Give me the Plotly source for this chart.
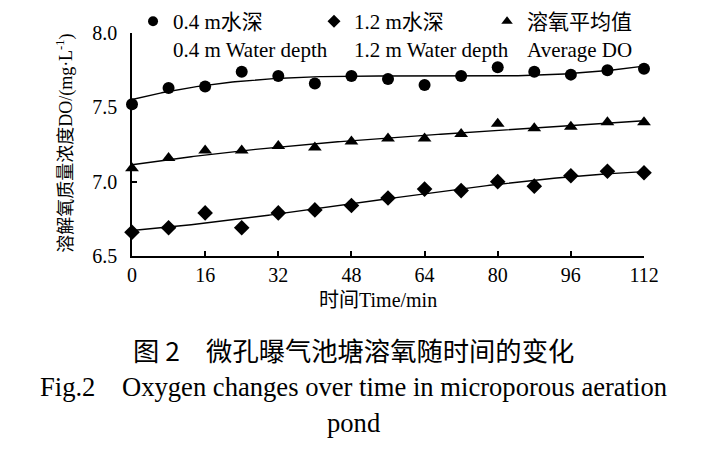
import numpy as np
import plotly.graph_objects as go

# ---- data ----
time_min = [0, 8, 16, 24, 32, 40, 48, 56, 64, 72, 80, 88, 96, 104, 112]
do_04m = [7.52, 7.63, 7.64, 7.74, 7.71, 7.66, 7.71, 7.69, 7.65, 7.71, 7.77, 7.74, 7.72, 7.75, 7.76]
do_12m = [6.66, 6.69, 6.79, 6.69, 6.79, 6.81, 6.84, 6.89, 6.95, 6.94, 7.00, 6.97, 7.04, 7.07, 7.06]
do_avg = [7.09, 7.16, 7.21, 7.21, 7.24, 7.23, 7.27, 7.29, 7.29, 7.32, 7.39, 7.36, 7.37, 7.40, 7.40]

x_ticks = [0, 16, 32, 48, 64, 80, 96, 112]
y_ticks = [6.5, 7.0, 7.5, 8.0]

names = ["0.4 m水深<br>0.4 m Water depth",
         "1.2 m水深<br>1.2 m Water depth",
         "溶氧平均值<br>Average DO"]
symbols = ["circle", "diamond", "triangle-up"]
marker_sizes = [12, 12, 12]
legend_sizes = [10, 10, 10]
legend_ids = ["legend", "legend2", "legend3"]
legend_x = [0.1756, 0.4298, 0.6728]
series = [do_04m, do_12m, do_avg]

SERIF = "Liberation Serif, Times New Roman, Noto Sans CJK SC, serif"

fig = go.Figure()

# trend lines (polynomial fits of the plotted data)
xf = np.linspace(min(time_min), max(time_min), 200)
for ys in series:
    coef = np.polyfit(time_min, ys, 3)
    fig.add_trace(go.Scatter(x=xf, y=np.polyval(coef, xf), mode="lines",
                             line=dict(color="black", width=1.4),
                             showlegend=False, hoverinfo="skip", cliponaxis=False))

for ys, nm, sym, ms, ls, lg in zip(series, names, symbols, marker_sizes, legend_sizes, legend_ids):
    fig.add_trace(go.Scatter(x=time_min, y=ys, mode="markers", name=nm, legendgroup=nm,
                             marker=dict(symbol=sym, size=ms, color="black"),
                             showlegend=False, cliponaxis=False))
    # legend entry with the small symbol used in the reference legend
    fig.add_trace(go.Scatter(x=[None], y=[None], mode="markers", name=nm, legendgroup=nm,
                             marker=dict(symbol=sym, size=ls, color="black"),
                             showlegend=True, legend=lg))

axis_common = dict(showline=True, linecolor="black", linewidth=1.5, ticks="inside",
                   ticklen=5, tickcolor="black", tickwidth=1.5, showgrid=False,
                   zeroline=False, mirror=False,
                   tickfont=dict(family=SERIF, size=20, color="black"))

fig.update_xaxes(range=[0, 112], tickvals=x_ticks, **axis_common)
fig.update_yaxes(range=[6.5, 8.0], tickvals=y_ticks, tickformat=".1f", **axis_common,
                 ticklabelstandoff=9)

# axis titles
fig.add_annotation(xref="paper", yref="paper", x=0.48, y=-0.197, xanchor="center",
                   yanchor="middle", showarrow=False, text="时间Time/min",
                   font=dict(family=SERIF, size=20, color="black"))
fig.add_annotation(xref="paper", yref="paper", x=-0.131, y=0.507, xanchor="center",
                   yanchor="middle", showarrow=False, textangle=-90,
                   text="溶解氧质量浓度DO/(mg·L<sup>-1</sup>)",
                   font=dict(family=SERIF, size=18, color="black"))

# captions
fig.add_annotation(xref="paper", yref="paper", x=0.432, y=-0.42, xanchor="center",
                   yanchor="middle", showarrow=False,
                   text="图 2\u3000微孔曝气池塘溶氧随时间的变化",
                   font=dict(family="Noto Sans CJK SC", size=26.3, color="black"))
fig.add_annotation(xref="paper", yref="paper", x=0.432, y=-0.587, xanchor="center",
                   yanchor="middle", showarrow=False,
                   text="Fig.2\u00a0\u00a0\u00a0\u00a0Oxygen changes over time in microporous aeration",
                   font=dict(family=SERIF, size=26.6, color="black"))
fig.add_annotation(xref="paper", yref="paper", x=0.432, y=-0.748, xanchor="center",
                   yanchor="middle", showarrow=False, text="pond",
                   font=dict(family=SERIF, size=26.6, color="black"))

legend_common = dict(orientation="v", xref="container", y=1.143,
                     xanchor="left", yanchor="top", valign="top",
                     font=dict(family=SERIF, size=21, color="black"),
                     bgcolor="rgba(0,0,0,0)", itemwidth=30, tracegroupgap=0)

fig.update_layout(
    width=712, height=434,
    margin=dict(l=124, r=76, t=25, b=186, autoexpand=False),
    plot_bgcolor="white", paper_bgcolor="white",
    legend=dict(x=legend_x[0], **legend_common),
    legend2=dict(x=legend_x[1], **legend_common),
    legend3=dict(x=legend_x[2], **legend_common),
)

fig.write_html("out.html")
